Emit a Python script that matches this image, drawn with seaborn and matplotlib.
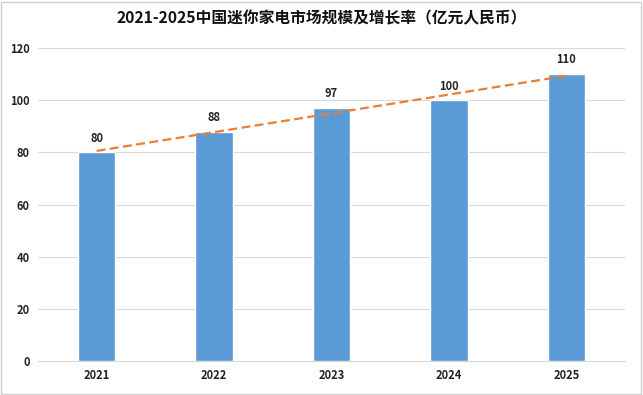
import numpy as np
import pandas as pd
import seaborn as sns
import matplotlib.pyplot as plt
from matplotlib.patches import Rectangle

years = ["2021", "2022", "2023", "2024", "2025"]
market_size = [80, 88, 97, 100, 110]

df = pd.DataFrame({"year": years, "size": market_size})

sns.set_style("white")
plt.rcParams['font.family'] = ['Noto Sans CJK SC', 'DejaVu Sans']

fig = plt.figure(figsize=(6.43, 3.95), dpi=100)
ax = fig.add_axes([0.059, 0.086, 0.913, 0.792])

sns.barplot(data=df, x="year", y="size", color="#5B9BD5", width=0.32,
            saturation=1, ax=ax, zorder=3)

# linear trendline
xs = np.arange(len(years))
k, b = np.polyfit(xs, market_size, 1)
ax.plot(xs, k * xs + b, ls="--", color="#ED7D31", lw=1.6, zorder=4,
        dashes=(4, 2))

for i, v in enumerate(market_size):
    ax.text(i, v + 3, str(v), ha="center", va="bottom", fontsize=8,
            fontweight="bold", color="#222222", zorder=5)

ax.set_ylim(0, 120)
ax.set_xlim(-0.5, 4.5)
ax.set_yticks(range(0, 121, 20))
ax.grid(axis="y", color="#D9D9D9", lw=0.8, zorder=0)
ax.set_xlabel("")
ax.set_ylabel("")
for s in ["top", "right", "left"]:
    ax.spines[s].set_visible(False)
ax.spines["bottom"].set_color("#D9D9D9")
ax.tick_params(axis="both", length=0, labelsize=8, pad=6)
for lab in ax.get_xticklabels() + ax.get_yticklabels():
    lab.set_fontweight("bold")
    lab.set_color("#222222")

fig.suptitle("2021-2025中国迷你家电市场规模及增长率（亿元人民币）", y=0.975,
             fontsize=11.3, fontweight="bold", color="#111111")

fig.patches.append(Rectangle((0.002, 0.003), 0.995, 0.993, transform=fig.transFigure,
                             fill=False, ec="#D0D0D0", lw=1))

fig.savefig("out.png", dpi=100)
